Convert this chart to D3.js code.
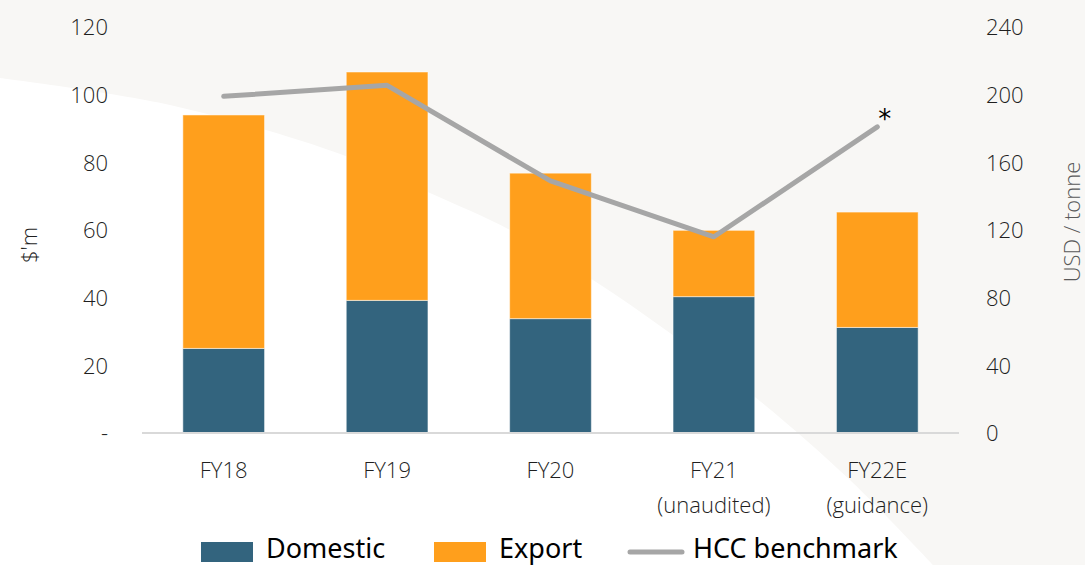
<!DOCTYPE html>
<html>
<head>
<meta charset="utf-8">
<script src="https://cdn.jsdelivr.net/npm/d3@7"></script>
<style>
  body { margin: 0; background: #fff; }
  svg { display: block; }
  .tick-label { font-family: "Open Sans", Lato, sans-serif; font-weight: 300; font-size: 22px; fill: #1f1f1f; }
  .legend-text { font-family: "Noto Sans", "Open Sans", sans-serif; font-size: 27px; fill: #000; }
</style>
</head>
<body>
<div id="chart"></div>
<script>
  // data
  const categories = ["FY18", "FY19", "FY20", "FY21", "FY22E"];
  const subLabels = ["", "", "", "(unaudited)", "(guidance)"];
  const domestic = [25, 39.2, 33.8, 40.3, 31.2];
  const exportVals = [69, 67.5, 43, 19.6, 34.1];
  const hcc = [199, 205.5, 149, 116, 181];
  const leftTicks = [0, 20, 40, 60, 80, 100, 120];
  const rightTicks = [0, 40, 80, 120, 160, 200, 240];

  const width = 1085, height = 565;
  const margin = {top: 27, right: 126, bottom: 133, left: 142};

  const svg = d3.select("#chart").append("svg")
      .attr("width", width)
      .attr("height", height);

  // background shape (beige with a white sweep)
  svg.append("rect")
      .attr("width", width).attr("height", height)
      .attr("fill", "#f8f7f5");

  const sweep = [[0, 78], [170, 105], [343, 155], [430, 193], [510, 230], [593, 280],
                 [670, 333], [755, 397], [850, 480], [933, 565]];
  const sweepLine = d3.line().curve(d3.curveCatmullRom);
  svg.append("path")
      .attr("d", sweepLine(sweep) + "L0,565Z")
      .attr("fill", "#ffffff");

  const x = d3.scaleBand()
      .domain(categories)
      .range([margin.left, width - margin.right])
      .paddingInner(0.5)
      .paddingOuter(0.25);

  const yLeft = d3.scaleLinear().domain([0, 120]).range([height - margin.bottom + 1, margin.top]);
  const yRight = d3.scaleLinear().domain([0, 240]).range([height - margin.bottom + 1, margin.top]);

  const rows = categories.map((c, i) => ({cat: c, domestic: domestic[i], export: exportVals[i], hcc: hcc[i]}));
  const stack = d3.stack().keys(["domestic", "export"])(rows);
  const colors = {domestic: "#33647e", export: "#ff9f1c"};

  svg.append("g").selectAll("g")
      .data(stack)
      .enter().append("g")
      .attr("fill", d => colors[d.key])
      .selectAll("rect")
      .data(d => d)
      .enter().append("rect")
      .attr("x", d => x(d.data.cat))
      .attr("width", x.bandwidth())
      .attr("y", d => yLeft(d[1]))
      .attr("height", d => yLeft(d[0]) - yLeft(d[1]))
      .attr("stroke", "#ffffff")
      .attr("stroke-opacity", 0.5)
      .attr("stroke-width", 1);

  // baseline
  svg.append("line")
      .attr("x1", margin.left).attr("x2", width - margin.right)
      .attr("y1", yLeft(0)).attr("y2", yLeft(0))
      .attr("stroke", "#d9d9d9").attr("stroke-width", 2);

  // hcc line
  const line = d3.line()
      .x(d => x(d.cat) + x.bandwidth() / 2)
      .y(d => yRight(d.hcc));
  svg.append("path")
      .datum(rows)
      .attr("d", line)
      .attr("fill", "none")
      .attr("stroke", "#a6a6a6")
      .attr("stroke-width", 5)
      .attr("stroke-linecap", "round")
      .attr("stroke-linejoin", "round");

  // asterisk on the last point
  const last = rows[rows.length - 1];
  svg.append("text")
      .attr("x", x(last.cat) + x.bandwidth() / 2 + 1)
      .attr("y", yRight(last.hcc) + 1)
      .attr("font-family", "DejaVu Sans, sans-serif")
      .attr("font-size", 26)
      .attr("fill", "#000")
      .text("*");

  // left axis
  const leftAxis = svg.append("g")
      .attr("transform", "translate(108,0)")
      .call(d3.axisLeft(yLeft).tickValues(leftTicks).tickSize(0).tickPadding(0)
        .tickFormat(d => d === 0 ? "-" : d));
  leftAxis.select(".domain").remove();
  leftAxis.selectAll("text").attr("class", "tick-label").attr("dy", "0.35em");

  // right axis
  const rightAxis = svg.append("g")
      .attr("transform", "translate(986,0)")
      .call(d3.axisRight(yRight).tickValues(rightTicks).tickSize(0).tickPadding(0));
  rightAxis.select(".domain").remove();
  rightAxis.selectAll("text").attr("class", "tick-label").attr("dy", "0.35em");

  // x labels
  const xLabels = svg.append("g");
  xLabels.selectAll(".cat")
      .data(categories)
      .enter().append("text")
      .attr("class", "tick-label")
      .attr("text-anchor", "middle")
      .attr("x", d => x(d) + x.bandwidth() / 2)
      .attr("y", 478)
      .text(d => d);
  xLabels.selectAll(".sub")
      .data(categories)
      .enter().append("text")
      .attr("class", "tick-label")
      .attr("text-anchor", "middle")
      .attr("x", d => x(d) + x.bandwidth() / 2)
      .attr("y", 513)
      .text((d, i) => subLabels[i]);

  // axis titles
  svg.append("text")
      .attr("class", "tick-label")
      .attr("transform", "translate(37,245) rotate(-90)")
      .attr("text-anchor", "middle")
      .text("$'m");
  svg.append("text")
      .attr("class", "tick-label")
      .attr("transform", "translate(1080,222) rotate(-90)")
      .attr("text-anchor", "middle")
      .style("fill", "#595959")
      .text("USD / tonne");

  // legend
  const legend = svg.append("g").attr("transform", "translate(0,551)");
  const legendItems = [
    {label: "Domestic", x: 201, type: "rect", color: colors.domestic},
    {label: "Export", x: 434, type: "rect", color: colors.export},
    {label: "HCC benchmark", x: 628, type: "line", color: "#a6a6a6"}
  ];
  legendItems.forEach(item => {
    if (item.type === "rect") {
      legend.append("rect")
          .attr("x", item.x).attr("y", -9)
          .attr("width", 52).attr("height", 20)
          .attr("fill", item.color);
    } else {
      legend.append("line")
          .attr("x1", item.x + 2).attr("x2", item.x + 54)
          .attr("y1", 1).attr("y2", 1)
          .attr("stroke", item.color).attr("stroke-width", 5)
          .attr("stroke-linecap", "round");
    }
    legend.append("text")
        .attr("class", "legend-text")
        .attr("x", item.x + 65)
        .attr("y", 7)
        .text(item.label);
  });
</script>
</body>
</html>
